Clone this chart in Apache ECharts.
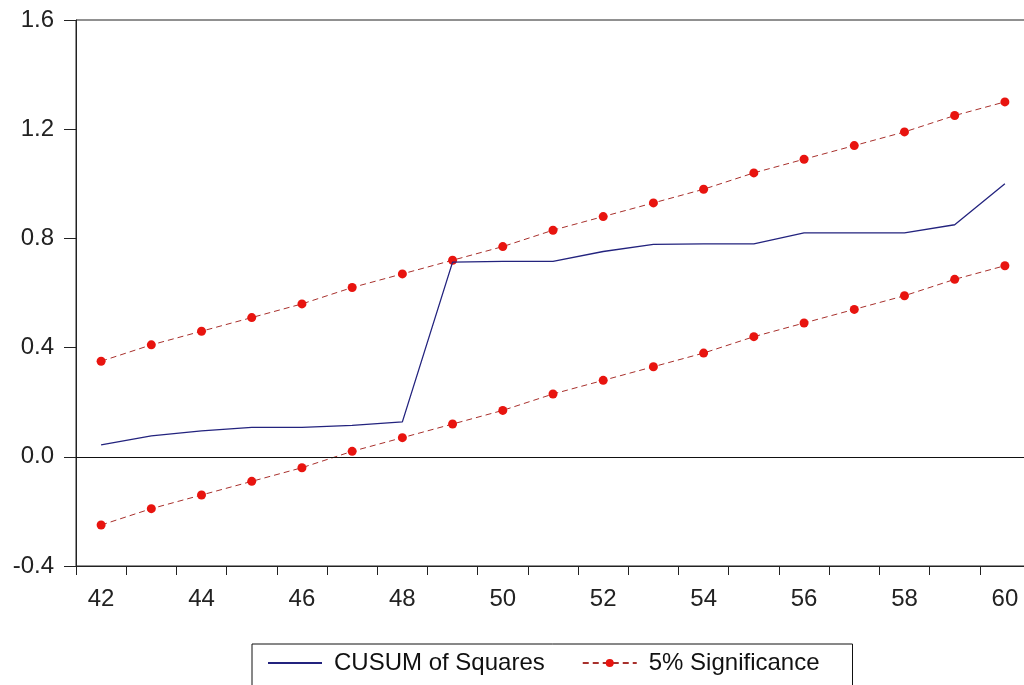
<!DOCTYPE html>
<html>
<head>
<meta charset="utf-8">
<script src="https://cdn.jsdelivr.net/npm/echarts@6/dist/echarts.min.js"></script>
<style>
  html, body { margin: 0; padding: 0; background: #fff; overflow: hidden; }
  #chart { width: 1030px; height: 685px; }
</style>
</head>
<body>
<div id="chart"></div>
<script>
  // 观测点 42..60
  var categories = ['42','43','44','45','46','47','48','49','50','51','52','53','54','55','56','57','58','59','60'];
  var cusumSq = [0.044, 0.077, 0.095, 0.108, 0.108, 0.115, 0.128, 0.713, 0.716, 0.716, 0.752, 0.778, 0.780, 0.780, 0.820, 0.820, 0.820, 0.850, 1.0];
  var upperBand = [0.35, 0.41, 0.46, 0.51, 0.56, 0.62, 0.67, 0.72, 0.77, 0.83, 0.88, 0.93, 0.98, 1.04, 1.09, 1.14, 1.19, 1.25, 1.30];
  var lowerBand = [-0.25, -0.19, -0.14, -0.09, -0.04, 0.02, 0.07, 0.12, 0.17, 0.23, 0.28, 0.33, 0.38, 0.44, 0.49, 0.54, 0.59, 0.65, 0.70];
  var yTicks = { min: -0.4, max: 1.6, step: 0.4 };

  var font = 'Liberation Sans, Arial, sans-serif';
  var chart = echarts.init(document.getElementById('chart'));

  var bandLine = { color: '#a8302c', width: 1, type: [6, 4] };
  var bandDot = { color: '#e8140f' };

  var option = {
    animation: false,
    grid: {
      left: 76, top: 20, right: 0, bottom: 119,
      show: true, borderColor: '#222', borderWidth: 1
    },
    legend: {
      left: 252, top: 644,
      padding: [7, 33, 30, 15],
      borderColor: '#111', borderWidth: 1,
      itemWidth: 54, itemHeight: 10, itemGap: 37,
      textStyle: { fontFamily: font, fontSize: 24, color: '#111', padding: [0, 0, 0, 7] },
      data: [
        { name: 'CUSUM of Squares', itemStyle: { opacity: 0 } },
        { name: '5% Significance' }
      ]
    },
    xAxis: {
      type: 'category',
      data: categories,
      boundaryGap: true,
      axisLine: { onZero: false, lineStyle: { color: '#222', width: 1 } },
      axisTick: { show: true, interval: 0, length: 9, lineStyle: { color: '#222' } },
      axisLabel: { interval: 1, margin: 21, fontFamily: font, fontSize: 24, color: '#222' },
      splitLine: { show: false }
    },
    yAxis: {
      type: 'value',
      min: yTicks.min, max: yTicks.max, interval: yTicks.step,
      axisLine: { show: true, lineStyle: { color: '#222', width: 1 } },
      axisTick: { show: true, length: 12, lineStyle: { color: '#222' } },
      axisLabel: {
        margin: 22, fontFamily: font, fontSize: 24, color: '#222',
        formatter: function (v) { return v.toFixed(1); }
      },
      splitLine: { show: false }
    },
    series: [
      {
        name: 'CUSUM of Squares',
        type: 'line',
        data: cusumSq,
        symbol: 'none',
        itemStyle: { color: '#23237e' },
        lineStyle: { color: '#23237e', width: 1.3 },
        markLine: {
          silent: true,
          symbol: 'none',
          label: { show: false },
          lineStyle: { color: '#111', width: 1, type: 'solid' },
          data: [{ yAxis: 0 }]
        },
        z: 3
      },
      {
        name: '5% Significance',
        type: 'line',
        data: upperBand,
        symbol: 'circle',
        symbolSize: 9,
        itemStyle: bandDot,
        lineStyle: bandLine,
        z: 2
      },
      {
        name: '5% Significance',
        type: 'line',
        data: lowerBand,
        symbol: 'circle',
        symbolSize: 9,
        itemStyle: bandDot,
        lineStyle: bandLine,
        z: 2
      }
    ]
  };

  option && chart.setOption(option);
</script>
</body>
</html>
